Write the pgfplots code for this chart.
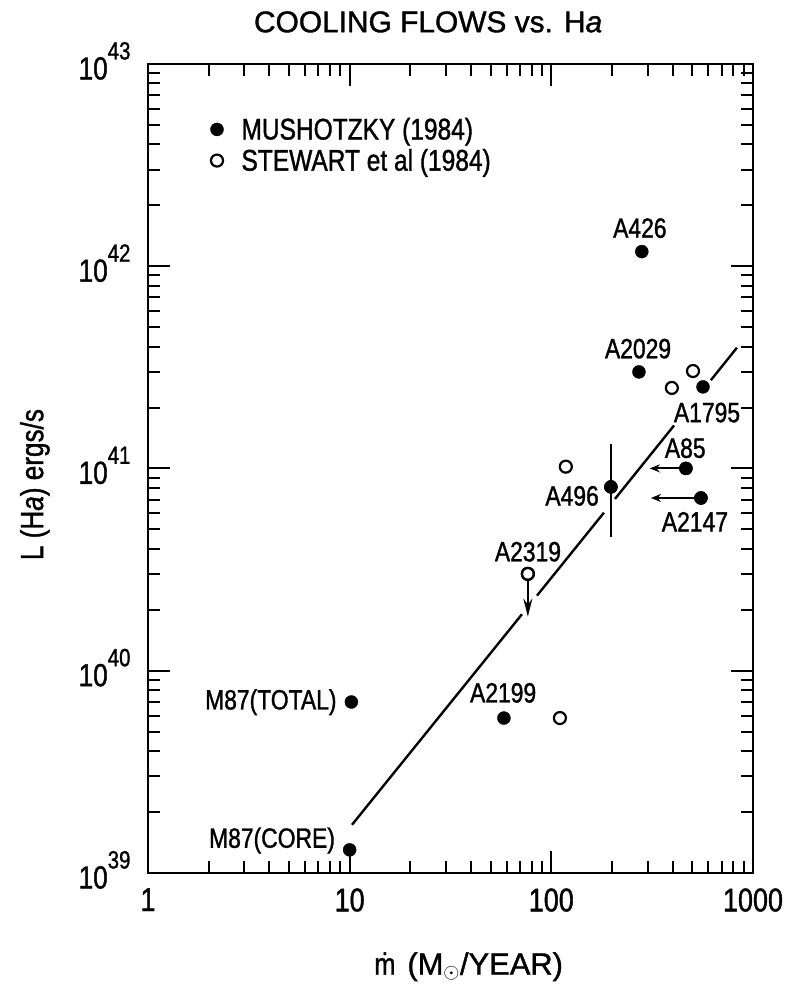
\documentclass[border=0pt]{standalone}
\usepackage{pgfplots}
\pgfplotsset{compat=1.18}
\usetikzlibrary{arrows.meta}
\usepackage{fontspec}
\setmainfont{Liberation Sans}[FakeStretch=0.82, FakeBold=1.2]
\newfontfamily\titlefont{Liberation Sans}[FakeBold=1.2]
\newcommand\sups[1]{\raisebox{20bp}{\fontsize{25}{25}\selectfont #1}}
\begin{document}
\begin{tikzpicture}
\useasboundingbox (-148bp,-116bp) rectangle (651bp,873bp);
\begin{axis}[
  at={(0,0)}, anchor=south west,
  scale only axis, width=605bp, height=809bp,
  xmode=log, ymode=log,
  xmin=1, xmax=1000, ymin=1e39, ymax=1e43,
  clip=false,
  axis line style={line width=2.4bp},
  every tick/.style={line width=2bp, black},
  major tick length=22bp, minor tick length=12bp,
  tick align=inside,
  xtick={1,10,100,1000}, xticklabels={1,10,100,1000},
  ytick={1e39,1e40,1e41,1e42,1e43},
  yticklabels={10\sups{39},10\sups{40},10\sups{41},10\sups{42},10\sups{43}},
  xticklabel style={font=\fontsize{33}{33}\selectfont, yshift=-12bp},
  yticklabel style={font=\fontsize{32}{32}\selectfont, xshift=-14bp, yshift=3bp},
  title={\titlefont COOLING FLOWS vs. H\textit{a}},
  title style={at={(axis description cs:0.463,1.0445)}, anchor=center, font=\fontsize{30}{30}\selectfont},
  xlabel={\.{m}\hspace{12bp}{\titlefont (M\textsubscript{$\odot$}/YEAR)}},
  xlabel style={at={(axis description cs:0.530,-0.116)}, anchor=center, font=\fontsize{31}{31}\selectfont},
  ylabel={L (H\textit{a}) ergs/s},
  ylabel style={at={(axis description cs:-0.187,0.48)}, anchor=center, rotate=0, font=\fontsize{32}{32}\selectfont},
  legend style={at={(axis description cs:0.103,0.936)}, anchor=north west, draw=none, fill=none,
    font=\fontsize{30}{30}\selectfont, row sep=4bp, inner sep=0pt},
  legend cell align=left,
]
% legend entries
\addplot[only marks, mark=*, mark size=6.5bp, black] coordinates {(58.2,5.83e39) (10,1.30e39) (10.2,7.0e39) (197.5,8.1e40) (281,1.18e42) (272,3.0e41) (565,2.53e41) (465,1.0e41) (552,7.14e40)};
\addlegendentry{\hspace{16bp}MUSHOTZKY (1984)}
\addplot[only marks, mark=o, mark size=6bp, line width=2.2bp, black, fill=white] coordinates {(110.3,5.83e39) (76.5,3.01e40) (118,1.02e41) (396,2.50e41) (504,3.03e41)};
\addlegendentry{\hspace{16bp}STEWART et al (1984)}
% fit line (broken around labels/points)
\addplot[black, line width=2.4bp, forget plot] coordinates {(10.27,1.73e39) (71.5,1.90e40)};
\addplot[black, line width=2.4bp, forget plot] coordinates {(84.9,2.35e40) (182.3,6.04e40)};
\addplot[black, line width=2.4bp, forget plot] coordinates {(206.7,7.06e40) (406,1.63e41)};
\addplot[black, line width=2.4bp, forget plot] coordinates {(618,2.73e41) (832,3.95e41)};
% error bar A496
\addplot[black, line width=2.2bp, forget plot] coordinates {(197.5,4.58e40) (197.5,1.32e41)};
% limit arrows
\addplot[black, line width=2.2bp, forget plot, -{Stealth[length=18bp,width=9bp]}] coordinates {(76.5,2.81e40) (76.5,1.85e40)};
\addplot[black, line width=2.2bp, forget plot, -{Stealth[length=10bp,width=8bp]}] coordinates {(465,1.0e41) (308,1.0e41)};
\addplot[black, line width=2.2bp, forget plot, -{Stealth[length=10bp,width=8bp]}] coordinates {(552,7.14e40) (312,7.14e40)};
% redraw marks on top
\addplot[only marks, mark=*, mark size=6.5bp, black, forget plot] coordinates {(197.5,8.1e40) (465,1.0e41) (552,7.14e40)};
\addplot[only marks, mark=o, mark size=6bp, line width=2.2bp, black, fill=white, forget plot] coordinates {(76.5,3.01e40)};
% labels
\begin{scope}[every node/.style={font=\fontsize{28}{28}\selectfont, anchor=center, inner sep=0pt}]
\node at (axis description cs:0.813,0.797) {A426};
\node at (axis description cs:0.810,0.648) {A2029};
\node at (axis description cs:0.924,0.569) {A1795};
\node at (axis description cs:0.888,0.525) {A85};
\node at (axis description cs:0.904,0.434) {A2147};
\node at (axis description cs:0.701,0.466) {A496};
\node at (axis description cs:0.628,0.397) {A2319};
\node at (axis description cs:0.587,0.2225) {A2199};
\node at (axis description cs:0.203,0.211) {M87(TOTAL)};
\node at (axis description cs:0.205,0.040) {M87(CORE)};
\end{scope}
\end{axis}
\end{tikzpicture}
\end{document}
